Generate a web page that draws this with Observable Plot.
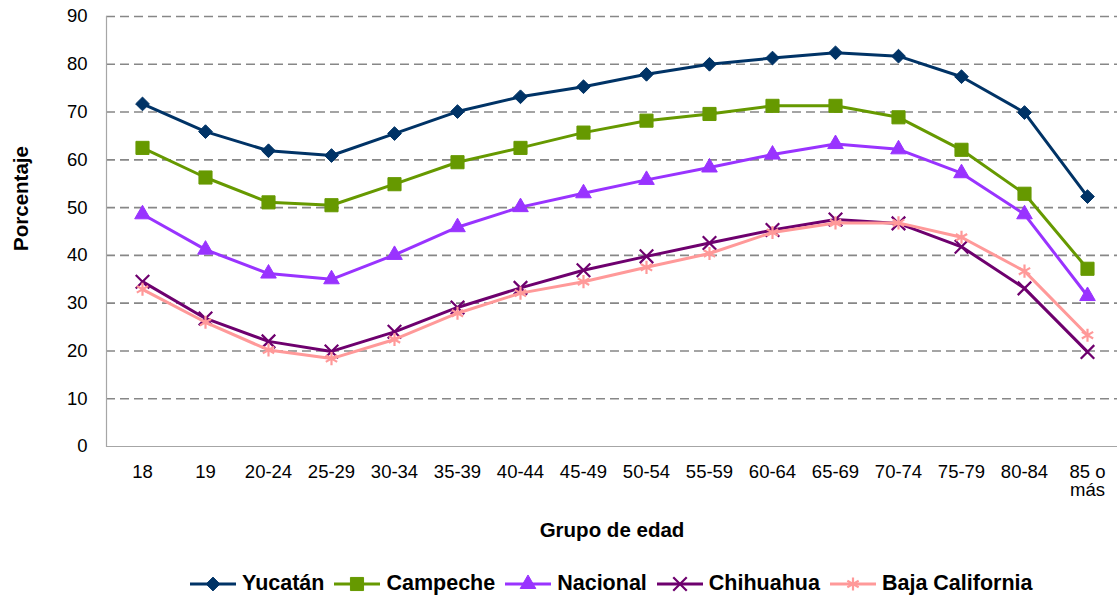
<!DOCTYPE html>
<html>
<head>
<meta charset="utf-8">
<script src="https://cdn.jsdelivr.net/npm/d3@7"></script>
<script src="https://cdn.jsdelivr.net/npm/@observablehq/plot@0.6"></script>
<style>
  html, body { margin: 0; padding: 0; background: #fff; }
  body { width: 1117px; height: 599px; overflow: hidden; position: relative; font-family: "Liberation Sans", Arial, sans-serif; }
  #chart svg { overflow: visible; display: block; }
  g[aria-label="x-axis label"] text { font-weight: bold; font-size: 20.5px; }
  #legend { position: absolute; left: 190px; top: 571px; display: flex; align-items: center; font-weight: bold; font-size: 21.5px; color: #000; white-space: nowrap; }
  #legend .item { display: flex; align-items: center; margin-right: 10px; }
  #legend svg { display: block; margin-right: 6px; }
</style>
</head>
<body>
<div id="chart"></div>
<div id="legend"></div>
<script>
// ---- data ----
const ageGroups = ["18","19","20-24","25-29","30-34","35-39","40-44","45-49","50-54","55-59","60-64","65-69","70-74","75-79","80-84","85 o más"];
const tickLabels = ["18","19","20-24","25-29","30-34","35-39","40-44","45-49","50-54","55-59","60-64","65-69","70-74","75-79","80-84","85 o\nmás"];
const yTicks = [0,10,20,30,40,50,60,70,80,90];
const gridValues = [10,20,30,40,50,60,70,80,90];

const seriesNames = ["Yucatán","Campeche","Nacional","Chihuahua","Baja California"];
const yucatan   = [71.7, 65.9, 61.9, 60.9, 65.5, 70.1, 73.2, 75.3, 77.9, 80.0, 81.3, 82.4, 81.7, 77.4, 69.9, 52.3];
const campeche  = [62.5, 56.3, 51.1, 50.5, 54.9, 59.5, 62.5, 65.7, 68.2, 69.6, 71.3, 71.3, 68.9, 62.1, 52.9, 37.2];
const nacional  = [48.6, 41.2, 36.2, 35.0, 40.1, 45.9, 50.1, 53.0, 55.8, 58.4, 61.1, 63.3, 62.2, 57.2, 48.6, 31.5];
const chihuahua = [34.5, 26.8, 22.0, 19.9, 24.0, 29.1, 33.2, 36.9, 39.8, 42.6, 45.3, 47.5, 46.7, 41.8, 33.1, 19.8];
const bajaCalifornia = [32.9, 26.0, 20.2, 18.4, 22.4, 27.9, 32.1, 34.5, 37.5, 40.4, 44.8, 46.8, 46.8, 43.8, 36.7, 23.3];

const colors  = ["#003366", "#669900", "#9933ff", "#6e006e", "#ff9999"];
const symbols = ["diamond2", "square", "triangle", "times", "asterisk"];
const filled  = [true, true, true, false, false];
const radii   = [6.2, 7.4, 5.8, 6.2, 6.2];

const valueLists = [yucatan, campeche, nacional, chihuahua, bajaCalifornia];
const series = seriesNames.map((name, i) => ({
  name, color: colors[i], symbol: symbols[i], filled: filled[i], r: radii[i],
  rows: ageGroups.map((g, j) => ({group: g, value: valueLists[i][j]}))
}));

// ---- marks ----
const marks = [
  Plot.ruleY(gridValues, {stroke: "#878787", strokeWidth: 1.6, strokeDasharray: "9,5"}),
  Plot.ruleY([0], {stroke: "#a6a6a6", strokeWidth: 1.2}),
  Plot.frame({anchor: "left", stroke: "#a6a6a6", strokeWidth: 1.2}),
  Plot.axisY({ticks: yTicks, tickSize: 0, tickPadding: 19, fontSize: 18.5, label: null}),
  Plot.axisX({tickSize: 0, tickPadding: 18, fontSize: 18.5, lineHeight: 1.0,
    tickFormat: (d) => tickLabels[ageGroups.indexOf(d)],
    label: "Grupo de edad", labelAnchor: "center", labelOffset: 90, labelArrow: false}),
  Plot.text(["Porcentaje"], {frameAnchor: "left", textAnchor: "middle", rotate: -90, dx: -85, dy: -33,
    fontWeight: "bold", fontSize: 20.5, fill: "#000"})
];
for (const s of series) {
  marks.push(Plot.line(s.rows, {x: "group", y: "value", stroke: s.color, strokeWidth: 3}));
  marks.push(Plot.dot(s.rows, s.filled
    ? {x: "group", y: "value", symbol: s.symbol, r: s.r, fill: s.color, stroke: s.color, strokeWidth: 1}
    : {x: "group", y: "value", symbol: s.symbol, r: s.r, stroke: s.color, strokeWidth: 2.2}));
}

const chart = Plot.plot({
  width: 1117,
  height: 555,
  marginTop: 16,
  marginBottom: 109,
  marginLeft: 106,
  marginRight: 0,
  x: {type: "point", domain: ageGroups, range: [106, 1122], padding: 0.5, axis: null},
  y: {domain: [0, 90], axis: null},
  style: {fontFamily: "'Liberation Sans', Arial, sans-serif", color: "#000", background: "#fff", overflow: "visible"},
  marks
});
document.getElementById("chart").appendChild(chart);

// ---- legend ----
const legend = document.getElementById("legend");
const symMap = {diamond2: d3.symbolDiamond2, square: d3.symbolSquare, triangle: d3.symbolTriangle, times: d3.symbolTimes, asterisk: d3.symbolAsterisk};
for (const s of series) {
  const item = document.createElement("div");
  item.className = "item";
  const w = 46, h = 22;
  const svg = d3.create("svg").attr("width", w).attr("height", h);
  svg.append("line").attr("x1", 0).attr("x2", w).attr("y1", h / 2).attr("y2", h / 2)
    .attr("stroke", s.color).attr("stroke-width", 3);
  const path = d3.symbol(symMap[s.symbol], Math.PI * s.r * s.r)();
  const p = svg.append("path").attr("d", path).attr("transform", `translate(${w / 2},${h / 2})`);
  if (s.filled) p.attr("fill", s.color).attr("stroke", s.color);
  else p.attr("fill", "none").attr("stroke", s.color).attr("stroke-width", 2.2);
  item.appendChild(svg.node());
  const label = document.createElement("span");
  label.textContent = s.name;
  item.appendChild(label);
  legend.appendChild(item);
}
</script>
</body>
</html>
